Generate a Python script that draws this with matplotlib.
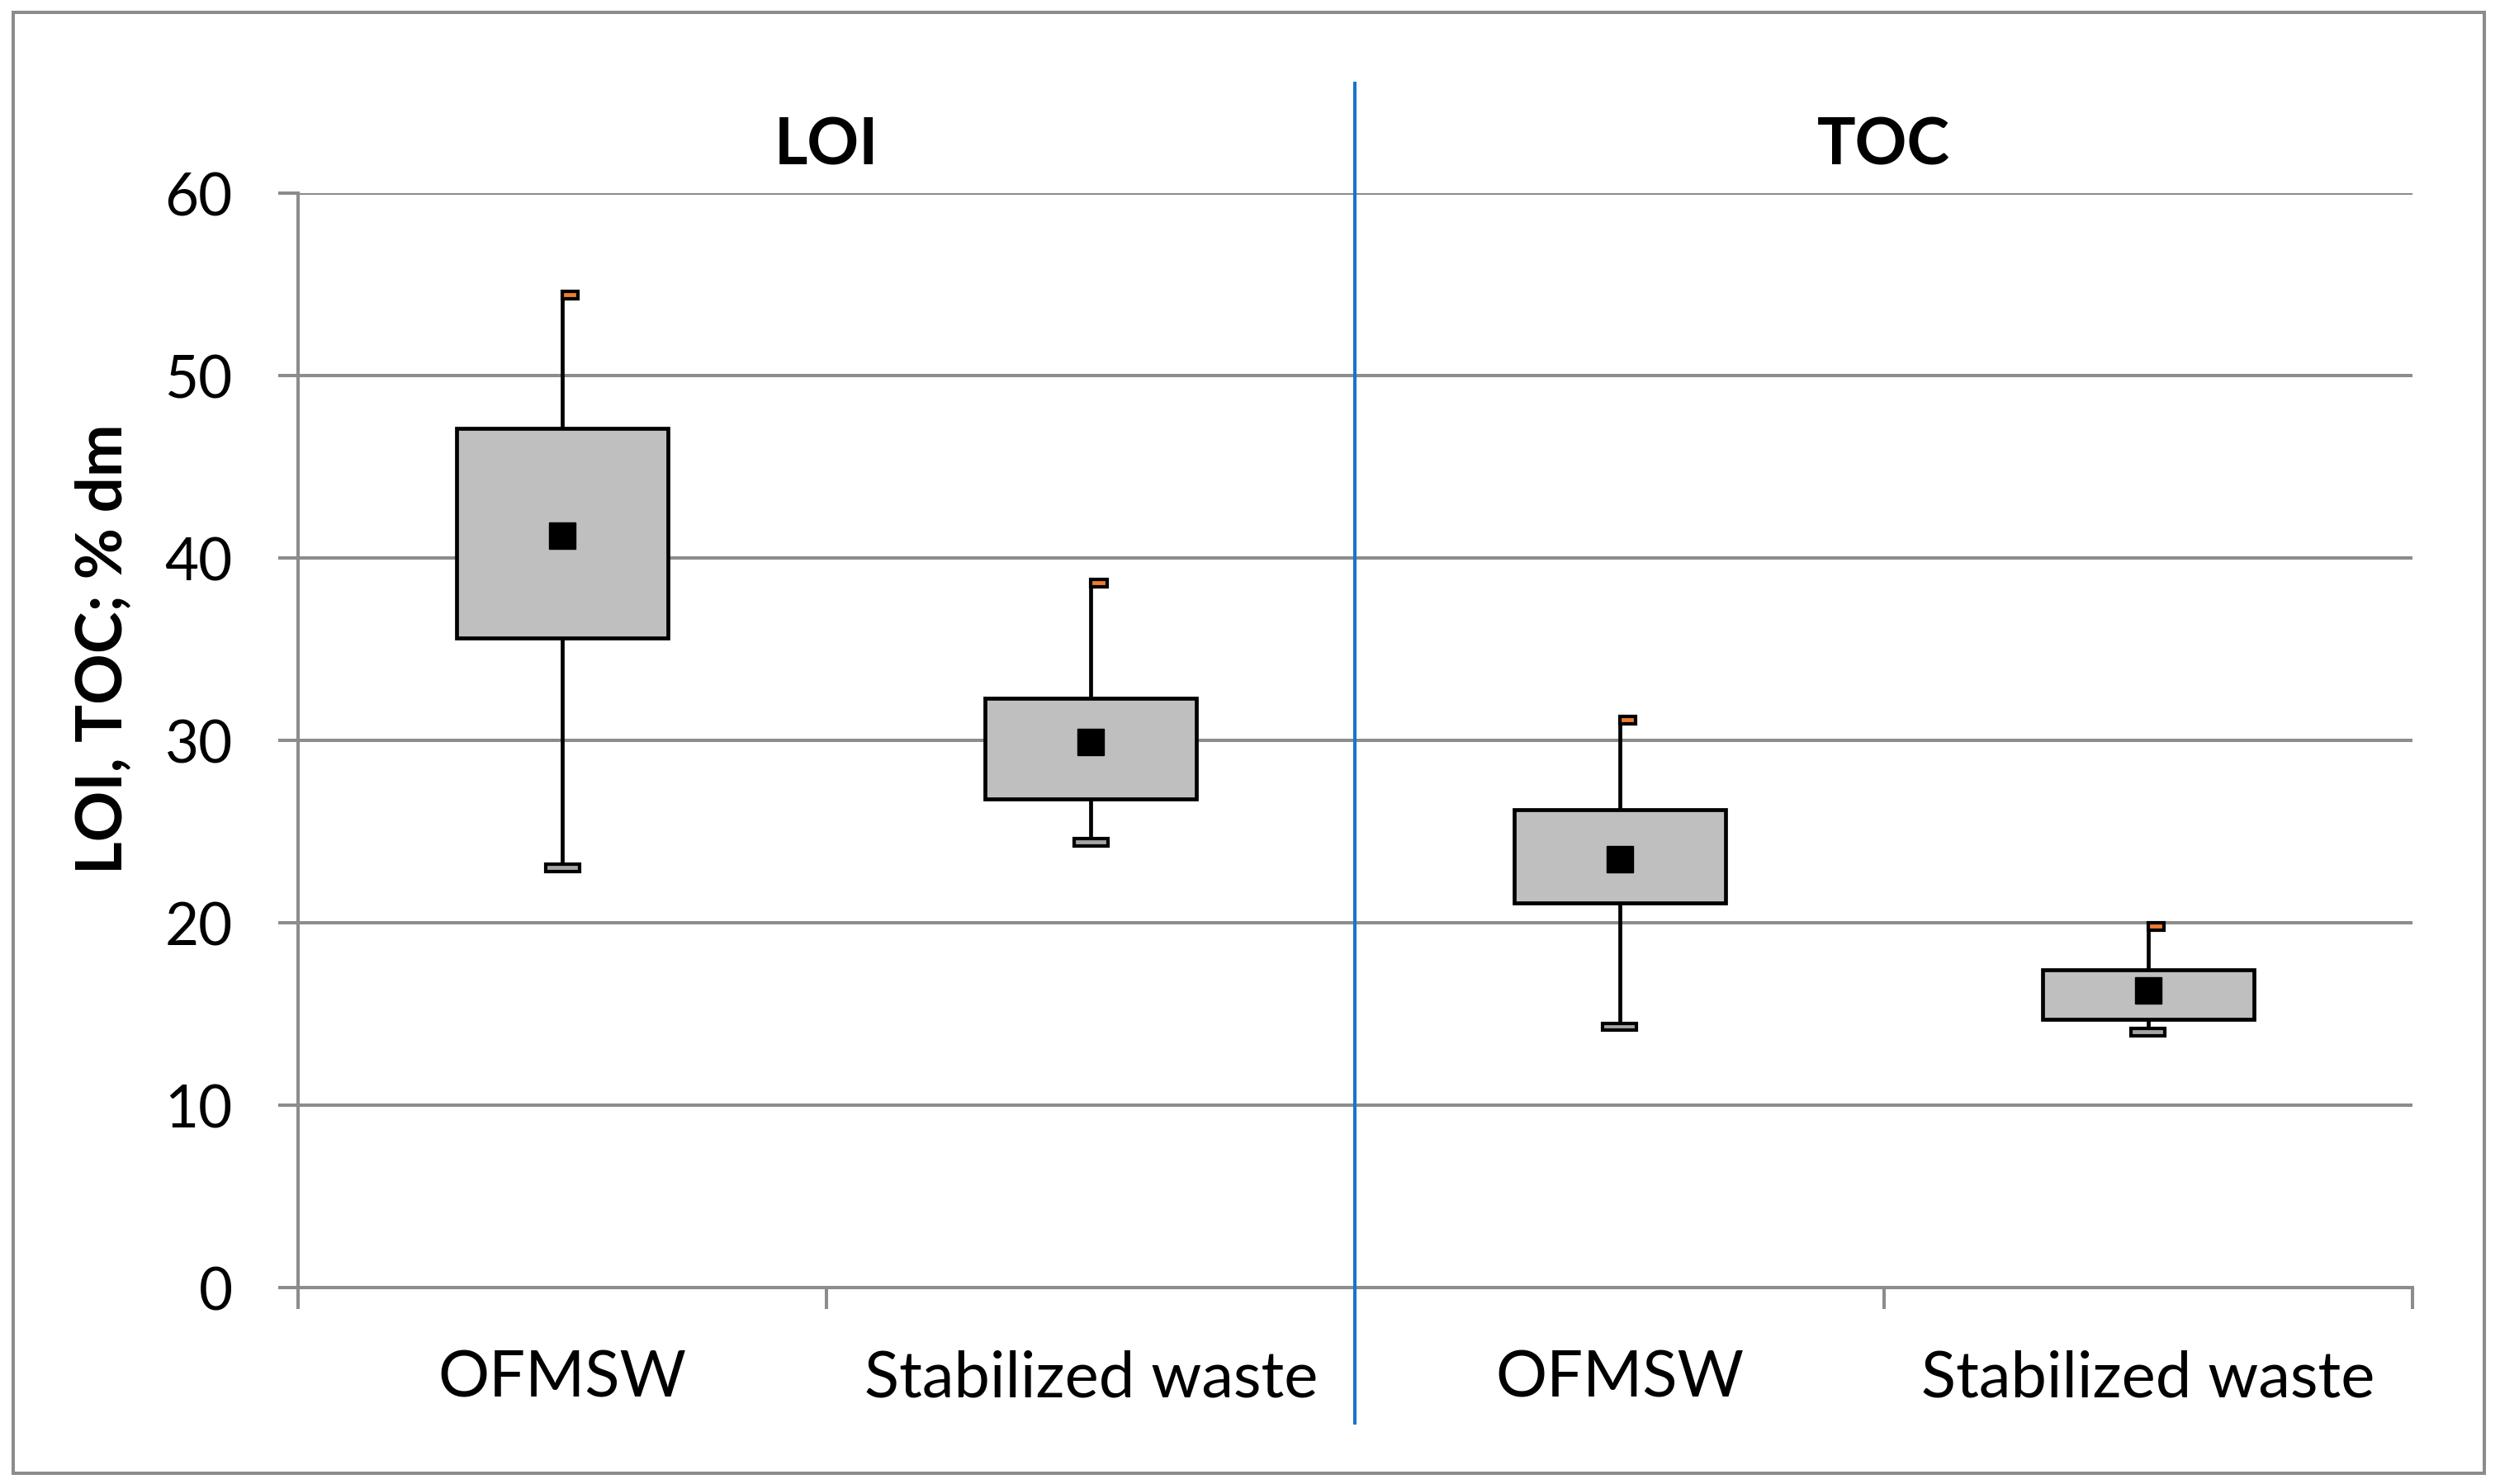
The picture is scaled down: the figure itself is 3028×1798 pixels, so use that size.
import matplotlib.pyplot as plt
from matplotlib.patches import Rectangle
from matplotlib.transforms import blended_transform_factory

plt.rcParams['font.family'] = ['Lato', 'DejaVu Sans']

# data (% dm)
categories = ["OFMSW", "Stabilized waste", "OFMSW", "Stabilized waste"]
groups = ["LOI", "TOC"]
mins = [23.0, 24.4, 14.3, 14.0]
q1 = [35.6, 26.8, 21.1, 14.7]
means = [41.2, 29.9, 23.5, 16.3]
q3 = [47.1, 32.3, 26.2, 17.4]
maxs = [54.4, 38.6, 31.1, 19.8]

GRID = '#8c8c8c'
BOX = '#bfbfbf'
ORANGE = '#ed7d31'
CAPGREY = '#a5a5a5'
BLUE = '#1a74cc'

fig = plt.figure(figsize=(30.28, 17.99), dpi=100)
ax = fig.add_axes([0.1192, 0.1323, 0.8458, 0.7371])

box_w = 0.40
lw = 3.4
x = list(range(len(categories)))
for i in x:
    ax.plot([i, i], [mins[i], q1[i]], color='k', lw=lw, zorder=3, solid_capstyle='butt')
    ax.plot([i, i], [q3[i], maxs[i]], color='k', lw=lw, zorder=3, solid_capstyle='butt')
    ax.add_patch(Rectangle((i - box_w / 2, q1[i]), box_w, q3[i] - q1[i],
                           facecolor=BOX, edgecolor='k', lw=lw, zorder=4))
    # small caps at the whisker ends
    ax.add_patch(Rectangle((i, maxs[i] - 0.2), 0.03, 0.4,
                           facecolor=ORANGE, edgecolor='k', lw=3.0, zorder=5))
    ax.add_patch(Rectangle((i - 0.032, mins[i] - 0.2), 0.064, 0.4,
                           facecolor=CAPGREY, edgecolor='k', lw=3.0, zorder=5))
ax.plot(x, means, linestyle='none', marker='s', markersize=23.5,
        color='k', zorder=6)

ax.set_xlim(-0.5, 3.5)
ax.set_ylim(0, 60)
ax.set_yticks(range(0, 61, 10))
ax.yaxis.grid(True, color=GRID, lw=2.9)
ax.set_axisbelow(True)
ax.tick_params(axis='y', length=17, width=2.9, color=GRID, pad=40, labelsize=51)

ax.set_xticks([-0.5, 0.5, 1.5, 2.5, 3.5])
ax.set_xticklabels([])
ax.set_xticks(x, minor=True)
ax.set_xticklabels(categories, minor=True)
ax.tick_params(axis='x', which='major', length=19, width=2.9, color=GRID, direction='out')
ax.tick_params(axis='x', which='minor', length=0, pad=54, labelsize=56)

for s in ['top', 'right']:
    ax.spines[s].set_visible(False)
for s in ['left', 'bottom']:
    ax.spines[s].set_color(GRID)
    ax.spines[s].set_linewidth(2.9)

# group titles and divider
for k, g in enumerate(groups):
    ax.text(0.5 + 2 * k, 62.6, g, ha='center', va='center',
            fontsize=56, fontweight='bold')
trans = blended_transform_factory(ax.transData, ax.transAxes)
ax.plot([1.5, 1.5], [-0.124, 1.1], color=BLUE, lw=2.9, transform=trans,
        clip_on=False, zorder=7)

fig.text(0.0416, 0.563, "LOI, TOC; % dm", rotation=90, ha='center', va='center',
         fontsize=55, fontweight='bold')

fig.patches.append(Rectangle((0.0052, 0.0072), 0.9885, 0.9841, transform=fig.transFigure,
                             fill=False, edgecolor=GRID, lw=2.9))

fig.savefig('out.png', dpi=100)
